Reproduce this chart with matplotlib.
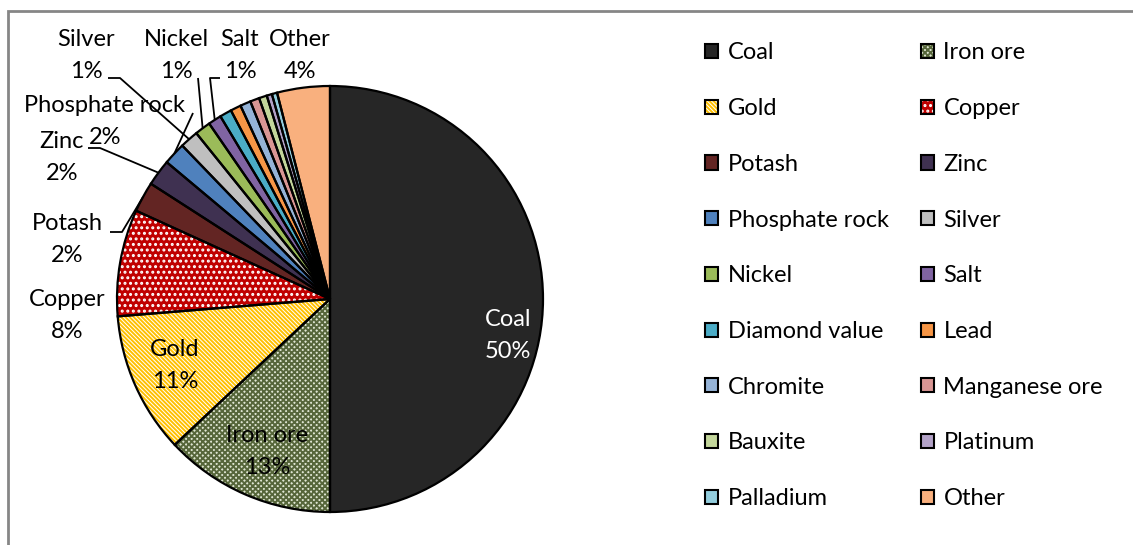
import matplotlib.pyplot as plt
from matplotlib.patches import Patch, Rectangle
import numpy as np

plt.rcParams['font.family'] = ['Lato', 'DejaVu Sans']

# mineral output shares (%)
minerals = ['Coal', 'Iron ore', 'Gold', 'Copper', 'Potash', 'Zinc',
            'Phosphate rock', 'Silver', 'Nickel', 'Salt', 'Diamond value',
            'Lead', 'Chromite', 'Manganese ore', 'Bauxite', 'Platinum',
            'Palladium', 'Other']
shares = [50.0, 13.0, 10.7, 8.1, 2.3, 2.0, 1.7, 1.4, 1.2, 1.0, 0.9,
          0.8, 0.8, 0.7, 0.6, 0.4, 0.4, 4.0]

colors = ['#262626', '#dfe6d2', '#ffffff', '#c00000', '#632523', '#3f3151',
          '#4f81bd', '#bfbfbf', '#9bbb59', '#8064a2', '#4bacc6', '#f79646',
          '#95b3d7', '#d99694', '#c3d69b', '#b3a2c7', '#93cddd', '#f9b07e']
hatches = {'Iron ore': ('xxxxxx', '#56663a'),
           'Gold': ('\\' * 8, '#ffc000'),
           'Copper': ('...', '#ffffff')}

W, H = 1133, 545
fig = plt.figure(figsize=(W / 100, H / 100), dpi=100)
ax = fig.add_axes([0, 0, 1, 1])

def px(x, y):
    return x, H - y

cx, cy = px(330, 299)
R = 213
FS = 17

plt.rcParams['hatch.linewidth'] = 1.4
wedges, _ = ax.pie(shares, colors=colors, startangle=90, counterclock=False,
                   center=(cx, cy), radius=R, frame=True,
                   wedgeprops=dict(linewidth=0))
for w, name in zip(wedges, minerals):
    if name in hatches:
        w.set_hatch(hatches[name][0])
        w.set_edgecolor(hatches[name][1])
# black outlines on top of the fills
outline, _ = ax.pie(shares, colors=['none'] * len(shares), startangle=90,
                    counterclock=False, center=(cx, cy), radius=R, frame=True,
                    wedgeprops=dict(linewidth=1.6, edgecolor='black'))

ax.set_xlim(0, W)
ax.set_ylim(0, H)
ax.set_aspect('auto')
ax.axis('off')

def anchor(i, r=1.0):
    w = wedges[i]
    mid = np.deg2rad((w.theta1 + w.theta2) / 2)
    return cx + R * r * np.cos(mid), cy + R * r * np.sin(mid)

def label(i, x, y, color='black'):
    # name above, percentage below
    ax.text(*px(x, y - 16), minerals[i], ha='center', va='center',
            fontsize=FS, color=color)
    ax.text(*px(x, y + 16), f"{shares[i]:.0f}%", ha='center', va='center',
            fontsize=FS, color=color)

label(0, 508, 335, 'white')
label(1, 267, 452)
label(2, 175, 366)
label(3, 67, 316)
label(4, 67, 240)
label(5, 62, 157)
label(6, 105, 121)
label(7, 86, 55)
label(8, 176, 55)
label(9, 240, 55)
label(17, 300, 55)

# leader lines: text side point(s) then the slice edge
leaders = {4: [(110, 232), (122, 232)],
           5: [(88, 148), (100, 148)],
           6: [(193, 113)],
           7: [(108, 78), (120, 78)],
           8: [(198, 78)],
           9: [(220, 78), (210, 78)]}
for i, pts in leaders.items():
    xs = [px(*p)[0] for p in pts]
    ys = [px(*p)[1] for p in pts]
    ax_, ay_ = anchor(i, 1.0)
    xs.append(ax_)
    ys.append(ay_)
    ax.plot(xs, ys, color='black', lw=1.3, solid_capstyle='butt')

# legend, filled row by row
handles = []
for w, name, c in zip(wedges, minerals, colors):
    fill = Patch(facecolor=c, edgecolor=hatches.get(name, (None, c))[1],
                 hatch=hatches.get(name, (None,))[0], lw=0)
    edge = Patch(facecolor='none', edgecolor='black', lw=1.5)
    handles.append((fill, edge))
order = list(range(0, 18, 2)) + list(range(1, 18, 2))
leg = ax.legend([handles[i] for i in order], [minerals[i] for i in order],
                ncol=2, loc='upper left', bbox_to_anchor=(696 / W, 1 - 33 / H),
                frameon=False, fontsize=FS, handlelength=0.55, handleheight=0.55,
                handletextpad=0.42, labelspacing=1.47, columnspacing=1.32,
                borderaxespad=0, borderpad=0.4)

# chart area border
fig.patches.append(Rectangle((8 / W, -0.1), 1.2, 1 - 11 / H + 0.1,
                             transform=fig.transFigure, fill=False,
                             edgecolor='#868686', lw=2))

fig.savefig('out.png', dpi=100)
